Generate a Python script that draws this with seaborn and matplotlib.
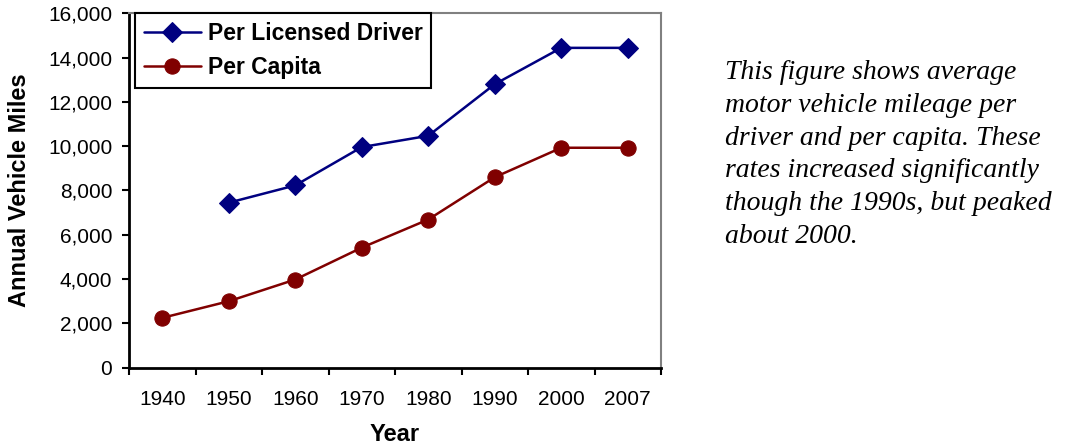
import numpy as np
import pandas as pd
import seaborn as sns
import matplotlib.pyplot as plt
from matplotlib.ticker import FuncFormatter, FixedLocator

years = ["1940", "1950", "1960", "1970", "1980", "1990", "2000", "2007"]
per_driver = [np.nan, 7450, 8230, 9960, 10470, 12800, 14440, 14440]
per_capita = [2250, 3000, 3980, 5420, 6690, 8600, 9930, 9930]

note = ("This figure shows average\n"
        "motor vehicle mileage per\n"
        "driver and per capita. These\n"
        "rates increased significantly\n"
        "though the 1990s, but peaked\n"
        "about 2000.")

sns.set_style("white", {"text.color": "black", "axes.labelcolor": "black",
                        "xtick.color": "black", "ytick.color": "black"})
plt.rcParams["font.family"] = ["Liberation Sans", "DejaVu Sans"]

df = pd.DataFrame({"pos": np.arange(len(years)),
                   "Per Licensed Driver": per_driver,
                   "Per Capita": per_capita})

fig = plt.figure(figsize=(10.75, 4.46), dpi=100)
ax = fig.add_axes([129 / 1075, 1 - 367.7 / 446, 532 / 1075, (367.7 - 13.3) / 446])

d = df.dropna(subset=["Per Licensed Driver"])
sns.lineplot(x=d["pos"], y=d["Per Licensed Driver"], ax=ax, color="#000080",
             marker="D", markersize=10, markeredgecolor="#000080", linewidth=1.8,
             label="Per Licensed Driver")
sns.lineplot(x=df["pos"], y=df["Per Capita"], ax=ax, color="#800000",
             marker="o", markersize=11, markeredgecolor="#800000", linewidth=1.8,
             label="Per Capita")

ax.set_xlim(-0.5, len(years) - 0.5)
ax.set_ylim(0, 16000)
ax.set_yticks(np.arange(0, 16001, 2000))
ax.yaxis.set_major_formatter(FuncFormatter(lambda v, p: f"{int(v):,}"))

ax.xaxis.set_major_locator(FixedLocator(np.arange(-0.5, len(years), 1.0)))
ax.xaxis.set_major_formatter(FuncFormatter(lambda v, p: ""))
ax.set_xticks(np.arange(len(years)), years, minor=True)
ax.tick_params(axis="x", which="major", direction="out", length=5, width=1.5,
               color="black", bottom=True)
ax.tick_params(axis="x", which="minor", length=0, labelsize=15, pad=16)
ax.tick_params(axis="y", direction="out", length=5, width=1.5, color="black",
               left=True, labelsize=15, pad=7)

for s in ["left", "bottom"]:
    ax.spines[s].set_color("black")
    ax.spines[s].set_linewidth(2)
for s in ["top", "right"]:
    ax.spines[s].set_visible(True)
    ax.spines[s].set_color("#808080")
    ax.spines[s].set_linewidth(1.5)

ax.set_xlabel("Year", fontsize=17, fontweight="bold")
ax.set_ylabel("Annual Vehicle Miles", fontsize=17, fontweight="bold")
ax.xaxis.set_label_coords(0.5, -0.155)
ax.yaxis.set_label_coords(-0.184, 0.5)

leg = ax.legend(loc="upper left", bbox_to_anchor=(0.011, 1.0), borderaxespad=0,
                frameon=True, fancybox=False, framealpha=1, edgecolor="black",
                prop={"size": 16.5, "weight": "bold"}, handlelength=2.5,
                handletextpad=0.3, labelspacing=0.5, borderpad=0.38)
leg.get_frame().set_linewidth(1.5)

fig.text(725 / 1075, 1 - 60 / 446, note, ha="left", va="top", fontsize=20,
         fontstyle="italic", family=["Liberation Serif", "DejaVu Serif"],
         linespacing=1.41, color="black")

plt.savefig("out.png", dpi=100)
plt.close()
